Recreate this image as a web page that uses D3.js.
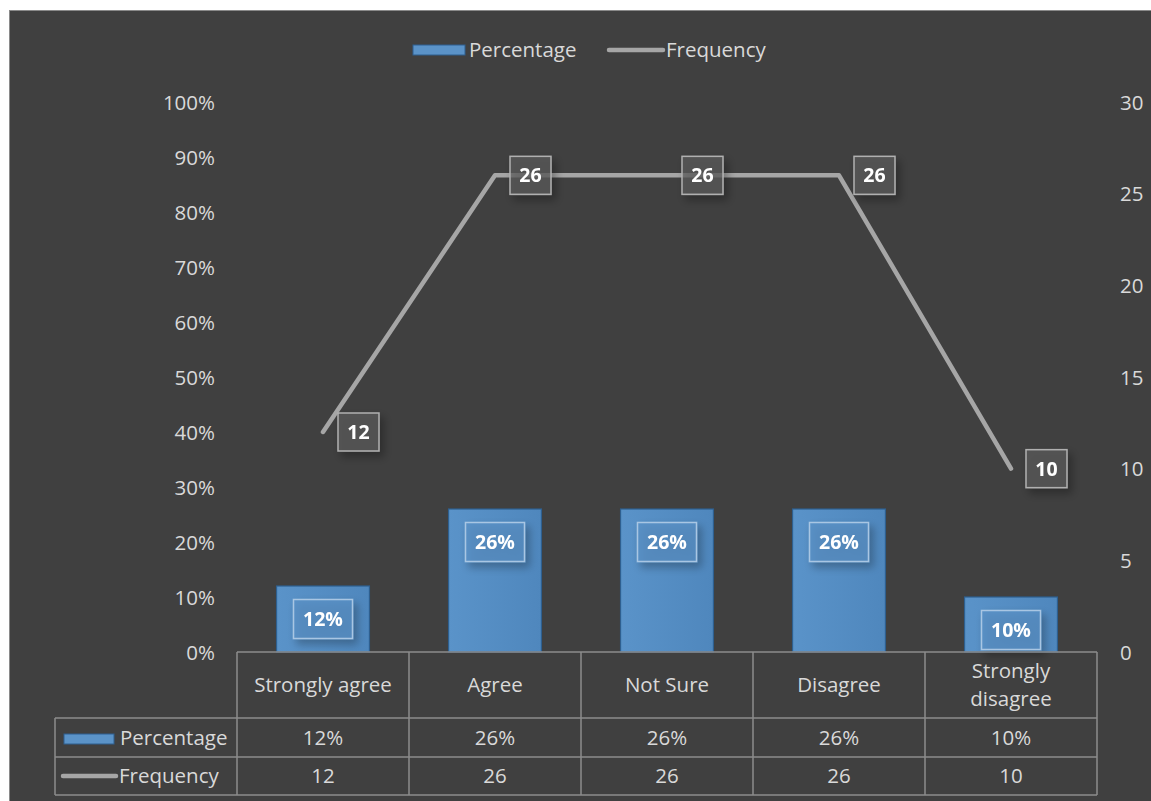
<!DOCTYPE html>
<html>
<head>
<meta charset="utf-8">
<script src="https://cdn.jsdelivr.net/npm/d3@7"></script>
<style>
  html, body { margin: 0; padding: 0; background: #ffffff; }
  svg { display: block; }
  text { font-family: "Open Sans", "Noto Sans", sans-serif; }
</style>
</head>
<body>
<svg id="chart" width="1151" height="801"></svg>
<script>
// Survey responses
const categories = ["Strongly agree", "Agree", "Not Sure", "Disagree", "Strongly disagree"];
const categoryLines = [["Strongly agree"], ["Agree"], ["Not Sure"], ["Disagree"], ["Strongly", "disagree"]];
const percentage = [0.12, 0.26, 0.26, 0.26, 0.10];
const frequency = [12, 26, 26, 26, 10];
const percentTicks = [0, 0.1, 0.2, 0.3, 0.4, 0.5, 0.6, 0.7, 0.8, 0.9, 1.0];
const frequencyTicks = [0, 5, 10, 15, 20, 25, 30];
const seriesNames = ["Percentage", "Frequency"];

const W = 1151, H = 801;
const bg = "#404040";
const textColor = "#d9d9d9";
const gridColor = "#8c8c8c";
const barColor = "#5b93c8";
const barStroke = "#2e5f8f";
const lineColor = "#a6a6a6";
const fs = 20.5;

const svg = d3.select("#chart");

// drop shadow for data labels
const defs = svg.append("defs");
const sh = defs.append("filter").attr("id", "shadow")
  .attr("x", "-50%").attr("y", "-50%").attr("width", "200%").attr("height", "200%");
sh.append("feGaussianBlur").attr("in", "SourceAlpha").attr("stdDeviation", 4).attr("result", "b");
sh.append("feOffset").attr("in", "b").attr("dx", 4).attr("dy", 5).attr("result", "o");
sh.append("feComponentTransfer").attr("in", "o").attr("result", "s")
  .append("feFuncA").attr("type", "linear").attr("slope", 0.4);
const m = sh.append("feMerge");
m.append("feMergeNode").attr("in", "s");
m.append("feMergeNode").attr("in", "SourceGraphic");

const barGrad = defs.append("linearGradient").attr("id", "barGrad")
  .attr("x1", 0).attr("x2", 1).attr("y1", 0).attr("y2", 0);
barGrad.append("stop").attr("offset", "0%").attr("stop-color", "#5a93c9");
barGrad.append("stop").attr("offset", "100%").attr("stop-color", "#4f87bd");

// chart area background
svg.append("rect").attr("x", 9).attr("y", 10).attr("width", W - 9).attr("height", H - 10)
  .attr("fill", bg);
svg.append("line").attr("x1", 9.5).attr("x2", 9.5).attr("y1", 10).attr("y2", H).attr("stroke", "#8a8a8a");
svg.append("line").attr("x1", 9).attr("x2", W).attr("y1", 10.5).attr("y2", 10.5).attr("stroke", "#8a8a8a");

const plotLeft = 237, plotRight = 1097, plotTop = 102, plotBottom = 652;

const x = d3.scaleBand().domain(categories).range([plotLeft, plotRight])
  .paddingInner(0.46).paddingOuter(0.23);
const yL = d3.scaleLinear().domain([0, 1]).range([plotBottom, plotTop]);
const yR = d3.scaleLinear().domain([0, 30]).range([plotBottom, plotTop]);
const cx = d => x(d) + x.bandwidth() / 2;

// left axis
const axL = d3.axisLeft(yL).tickValues(percentTicks).tickFormat(d3.format(".0%")).tickSize(0).tickPadding(0);
const gL = svg.append("g").attr("transform", `translate(${215},0)`).call(axL);
gL.select(".domain").remove();
gL.selectAll("text").attr("fill", textColor).attr("font-size", fs).attr("dy", "0.35em");

// right axis
const axR = d3.axisRight(yR).tickValues(frequencyTicks).tickFormat(d3.format("d")).tickSize(0).tickPadding(0);
const gR = svg.append("g").attr("transform", `translate(${1120},0)`).call(axR);
gR.select(".domain").remove();
gR.selectAll("text").attr("fill", textColor).attr("font-size", fs).attr("dy", "0.35em");

// bars
svg.append("g").selectAll("rect").data(categories).join("rect")
  .attr("x", d => x(d))
  .attr("y", (d, i) => yL(percentage[i]))
  .attr("width", x.bandwidth())
  .attr("height", (d, i) => plotBottom - yL(percentage[i]))
  .attr("fill", "url(#barGrad)")
  .attr("stroke", barStroke).attr("stroke-width", 1.2);

// frequency line
const line = d3.line().x((d, i) => cx(categories[i])).y(d => yR(d));
svg.append("path").datum(frequency).attr("d", line)
  .attr("fill", "none").attr("stroke", lineColor).attr("stroke-width", 4.5)
  .attr("stroke-linecap", "round").attr("stroke-linejoin", "round");

// bar data labels (inside end)
const pctFmt = d3.format(".0%");
const bl = svg.append("g").selectAll("g").data(categories).join("g")
  .attr("transform", (d, i) => `translate(${cx(d)},${yL(percentage[i]) + 33})`)
  .attr("filter", "url(#shadow)");
bl.append("rect").attr("x", -29.5).attr("y", -19.5).attr("width", 59).attr("height", 39)
  .attr("fill", "#5b93c8").attr("fill-opacity", 0.6).attr("stroke", "#a9c6e3").attr("stroke-width", 1.5);
bl.append("text").attr("text-anchor", "middle").attr("dy", "0.36em")
  .attr("fill", "#ffffff").attr("font-weight", "bold").attr("font-size", 19.5)
  .text((d, i) => pctFmt(percentage[i]));

// line data labels (right of point)
const ll = svg.append("g").selectAll("g").data(categories).join("g")
  .attr("transform", (d, i) => `translate(${cx(d) + 35.5},${yR(frequency[i])})`)
  .attr("filter", "url(#shadow)");
ll.append("rect").attr("x", -20.5).attr("y", -19).attr("width", 41).attr("height", 38)
  .attr("fill", "#5d5d5d").attr("fill-opacity", 0.7).attr("stroke", "#b0b0b0").attr("stroke-width", 1.5);
ll.append("text").attr("text-anchor", "middle").attr("dy", "0.36em")
  .attr("fill", "#ffffff").attr("font-weight", "bold").attr("font-size", 19.5)
  .text((d, i) => frequency[i]);

// legend
const lg = svg.append("g");
lg.append("rect").attr("x", 413).attr("y", 45).attr("width", 52).attr("height", 10)
  .attr("fill", barColor).attr("stroke", barStroke).attr("stroke-width", 1);
lg.append("text").attr("x", 469).attr("y", 50).attr("dy", "0.35em").attr("fill", textColor)
  .attr("font-size", fs).text(seriesNames[0]);
lg.append("line").attr("x1", 609).attr("x2", 663).attr("y1", 50).attr("y2", 50)
  .attr("stroke", lineColor).attr("stroke-width", 4.5).attr("stroke-linecap", "round");
lg.append("text").attr("x", 666).attr("y", 50).attr("dy", "0.35em").attr("fill", textColor)
  .attr("font-size", fs).text(seriesNames[1]);

// data table
const rowTop = plotBottom, row1 = 718, row2 = 757, row3 = 795, tableLeft = 55;
const tg = svg.append("g").attr("stroke", gridColor).attr("stroke-width", 1.5).attr("fill", "none");
tg.append("line").attr("x1", plotLeft).attr("x2", plotRight).attr("y1", rowTop).attr("y2", rowTop);
[row1, row2, row3].forEach(yy => tg.append("line").attr("x1", tableLeft).attr("x2", plotRight).attr("y1", yy).attr("y2", yy));
tg.append("line").attr("x1", tableLeft).attr("x2", tableLeft).attr("y1", row1).attr("y2", row3);
const edges = categories.map(d => x(d) - x.step() * x.paddingInner() / 2).concat([plotRight]);
edges[0] = plotLeft;
edges.forEach(ex => tg.append("line").attr("x1", ex).attr("x2", ex).attr("y1", rowTop).attr("y2", row3));

const tt = svg.append("g").attr("fill", textColor).attr("font-size", fs).attr("text-anchor", "middle");
categories.forEach((c, i) => {
  const lines = categoryLines[i];
  const mid = (rowTop + row1) / 2;
  lines.forEach((t, j) => {
    tt.append("text").attr("x", cx(c)).attr("y", mid + (j - (lines.length - 1) / 2) * 28)
      .attr("dy", "0.35em").text(t);
  });
  tt.append("text").attr("x", cx(c)).attr("y", (row1 + row2) / 2).attr("dy", "0.35em").text(pctFmt(percentage[i]));
  tt.append("text").attr("x", cx(c)).attr("y", (row2 + row3) / 2).attr("dy", "0.35em").text(frequency[i]);
});

// series keys in table
svg.append("rect").attr("x", 64).attr("y", 734).attr("width", 50).attr("height", 10)
  .attr("fill", barColor).attr("stroke", barStroke).attr("stroke-width", 1);
svg.append("text").attr("x", 120).attr("y", (row1 + row2) / 2).attr("dy", "0.35em")
  .attr("fill", textColor).attr("font-size", fs).text(seriesNames[0]);
svg.append("line").attr("x1", 63).attr("x2", 116).attr("y1", 776).attr("y2", 776)
  .attr("stroke", lineColor).attr("stroke-width", 4.5).attr("stroke-linecap", "round");
svg.append("text").attr("x", 119).attr("y", (row2 + row3) / 2).attr("dy", "0.35em")
  .attr("fill", textColor).attr("font-size", fs).text(seriesNames[1]);
</script>
</body>
</html>
